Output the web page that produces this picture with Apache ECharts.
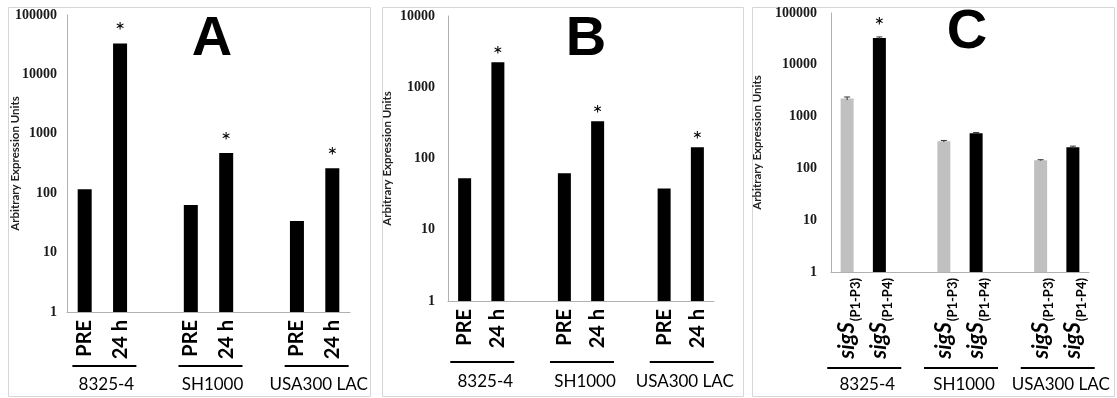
<!DOCTYPE html>
<html><head><meta charset="utf-8">
<script src="https://cdn.jsdelivr.net/npm/echarts@6/dist/echarts.min.js"></script>
<style>html,body{margin:0;padding:0;background:#fff}#c{width:1117px;height:398px}</style>
</head><body><div id="c"></div>
<script>
// ---- data ----
const groups = ['8325-4', 'SH1000', 'USA300 LAC'];
const timeLabels = ['PRE', '24 h'];
const primerLabels = ['(P1-P3)', '(P1-P4)'];
const geneName = 'sigS';
const yTitle = 'Arbitrary Expression Units';
const panelLetters = ['A', 'B', 'C'];

const aPre = [117, 63, 34];
const a24h = [33000, 477, 262];
const aSig24h = [true, true, true];

const bPre = [53, 62, 38];
const b24h = [2240, 334, 144];
const bSig24h = [true, true, true];

const cP1P3 = [2240, 334, 144];
const cP1P4 = [33000, 477, 255];
const cErrP1P3 = [150, 12, 3];
const cErrP1P4 = [1500, 15, 14];
const cSigP1P4 = [true, false, false];

// ---- helpers ----
function slotIndex(g, k) { return g * 3 + k; }
const nSlots = groups.length * 3 - 1;
function slotData(first, second, mk) {
  const arr = new Array(nSlots).fill('-');
  groups.forEach((g, i) => {
    if (first) arr[slotIndex(i, 0)] = mk ? mk(first[i], i, 0) : first[i];
    if (second) arr[slotIndex(i, 1)] = mk ? mk(second[i], i, 1) : second[i];
  });
  return arr;
}
function catLabels(labels) {
  const arr = new Array(nSlots).fill('');
  groups.forEach((g, i) => { arr[slotIndex(i, 0)] = labels[0]; arr[slotIndex(i, 1)] = labels[1]; });
  return arr;
}

const axisGrey = '#b0b0b0';
const grids = [
  { left: 67, top: 15, width: 283, height: 297 },
  { left: 448, top: 16, width: 266, height: 285 },
  { left: 831, top: 13, width: 258, height: 259 }
];
const yMax = [100000, 10000, 100000];
const nameGaps = [46, 55, 68];
const labelMargins = [10, 13, 14];

const xAxes = grids.map((g, k) => ({
  type: 'category', gridIndex: k,
  data: k < 2 ? catLabels(timeLabels) : catLabels(primerLabels),
  axisLine: { lineStyle: { color: axisGrey, width: 1 } },
  axisTick: { show: false },
  axisLabel: k < 2 ? {
    interval: 0, rotate: 90, margin: 8, color: '#000',
    fontFamily: 'Lato', fontWeight: 'bold', fontSize: 20
  } : {
    interval: 0, rotate: 90, margin: 6, color: '#000',
    formatter: v => v ? '{i|' + geneName + '}{s|' + v + '}' : '',
    rich: {
      i: { fontFamily: 'Lato', fontStyle: 'italic', fontWeight: 'bold', fontSize: 22, color: '#000', verticalAlign: 'bottom' },
      s: { fontFamily: 'Lato', fontWeight: 'bold', fontSize: 13, color: '#000', verticalAlign: 'bottom', padding: [0, 0, -4, 1] }
    }
  }
}));
const yAxes = grids.map((g, k) => ({
  type: 'log', logBase: 10, gridIndex: k, min: 1, max: yMax[k],
  splitNumber: k === 1 ? 4 : 5,
  name: yTitle, nameLocation: 'middle', nameRotate: 90, nameGap: nameGaps[k],
  nameMoveOverlap: false,
  nameTextStyle: { fontFamily: 'Lato', fontWeight: 'bold', fontSize: 11.5, color: '#222' },
  axisLine: { show: true, lineStyle: { color: axisGrey, width: 1 } },
  axisTick: { show: false },
  splitLine: { show: false },
  axisLabel: {
    margin: labelMargins[k], color: '#1a1a1a',
    fontFamily: 'Liberation Serif', fontWeight: 'bold', fontSize: 14,
    formatter: v => String(Math.round(v))
  }
}));

const starLabel = (show, dist) => ({
  show: show, position: 'top', distance: dist, formatter: '*',
  fontFamily: 'Lato', fontSize: 24, color: '#000'
});

const series = [
  {
    type: 'bar', xAxisIndex: 0, yAxisIndex: 0, barWidth: 14,
    itemStyle: { color: '#000' },
    data: slotData(aPre, a24h, (v, i, k) => ({ value: v, label: starLabel(k === 1 && aSig24h[i], 0) }))
  },
  {
    type: 'bar', xAxisIndex: 1, yAxisIndex: 1, barWidth: 13,
    itemStyle: { color: '#000' },
    data: slotData(bPre, b24h, (v, i, k) => ({ value: v, label: starLabel(k === 1 && bSig24h[i], -5) }))
  },
  {
    type: 'bar', xAxisIndex: 2, yAxisIndex: 2, barWidth: 13, barGap: '-100%',
    itemStyle: { color: '#c0c0c0' },
    data: slotData(cP1P3, null)
  },
  {
    type: 'bar', xAxisIndex: 2, yAxisIndex: 2, barWidth: 13, barGap: '-100%',
    itemStyle: { color: '#000' },
    data: slotData(null, cP1P4, (v, i, k) => ({ value: v, label: starLabel(cSigP1P4[i], 0) }))
  },
  {
    type: 'custom', xAxisIndex: 2, yAxisIndex: 2,
    data: [].concat(
      groups.map((g, i) => [slotIndex(i, 0), cP1P3[i], cErrP1P3[i]]),
      groups.map((g, i) => [slotIndex(i, 1), cP1P4[i], cErrP1P4[i]])
    ),
    renderItem: (params, api) => {
      const x = api.value(0), v = api.value(1), e = api.value(2);
      const top = api.coord([x, v + e]);
      const bot = api.coord([x, v - e]);
      const hw = 3;
      const st = { stroke: '#333', lineWidth: 1 };
      return { type: 'group', children: [
        { type: 'line', shape: { x1: top[0], y1: top[1], x2: bot[0], y2: bot[1] }, style: st },
        { type: 'line', shape: { x1: top[0] - hw, y1: top[1], x2: top[0] + hw, y2: top[1] }, style: st }
      ] };
    },
    z: 5
  }
];

const chart = echarts.init(document.getElementById('c'), null, { renderer: 'canvas' });
chart.setOption({
  animation: false,
  backgroundColor: '#fff',
  grid: grids,
  xAxis: xAxes,
  yAxis: yAxes,
  series: series
});

// ---- panel frames, letters, group underlines & labels ----
const frames = [[8, 7, 362, 389], [382, 7, 361, 389], [752, 7, 362, 389]];
const letterPos = [[212, 40], [586, 40], [967, 33]];
const lineY = [366, 362, 368];
const textY = [385, 382, 385];
const lineHalf = [[-30, 34], [-31, 33], [-36, 38]];
const graphic = [];
frames.forEach((f, k) => {
  graphic.push({ type: 'rect', shape: { x: f[0] + 0.5, y: f[1] + 0.5, width: f[2], height: f[3] },
    style: { fill: 'none', stroke: '#d6d6d6', lineWidth: 1 }, z: -1 });
  graphic.push({ type: 'text', x: letterPos[k][0], y: letterPos[k][1],
    style: { text: panelLetters[k], fontFamily: 'Liberation Sans', fontWeight: 'bold', fontSize: 56,
      fill: '#000', align: 'center', verticalAlign: 'middle' } });
  groups.forEach((g, i) => {
    const p0 = chart.convertToPixel({ xAxisIndex: k }, slotIndex(i, 0));
    const p1 = chart.convertToPixel({ xAxisIndex: k }, slotIndex(i, 1));
    const c = (p0 + p1) / 2;
    graphic.push({ type: 'line', shape: { x1: c + lineHalf[k][0], y1: lineY[k], x2: c + lineHalf[k][1], y2: lineY[k] },
      style: { stroke: '#000', lineWidth: 2 } });
    graphic.push({ type: 'text', x: c + 4, y: textY[k],
      style: { text: g, fontFamily: 'Lato', fontSize: 17, fill: '#000', align: 'center', verticalAlign: 'middle' } });
  });
});
chart.setOption({ graphic: graphic });
</script></body></html>
